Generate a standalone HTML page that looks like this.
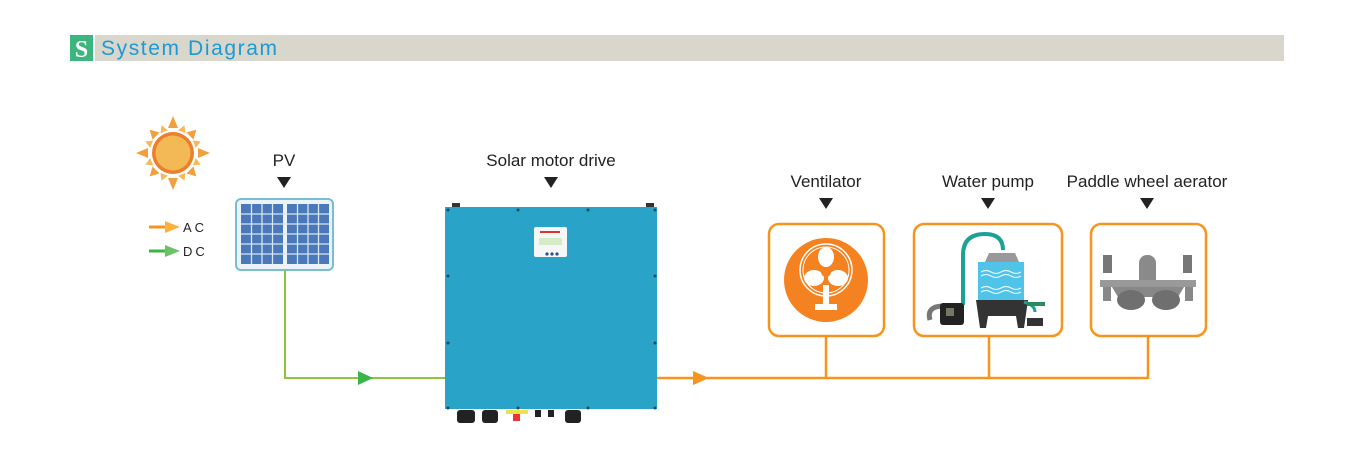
<!DOCTYPE html>
<html><head><style>body{margin:0;background:#fff}svg{display:block}text{font-family:"Liberation Sans",sans-serif}</style></head><body>
<svg width="1362" height="450" viewBox="0 0 1362 450">
<rect x="95" y="35" width="1189" height="26" fill="#d9d6cb"/>
<rect x="70" y="35" width="23" height="26" fill="#3db57f"/>
<text x="81.5" y="57" font-size="24" font-weight="bold" fill="#fff" text-anchor="middle" style="font-family:'Liberation Serif',serif">S</text>
<text x="101" y="55" font-size="21" fill="#1a9ad6" letter-spacing="1.6">System Diagram</text>
<!-- sun -->
<g transform="translate(173,153)">
<g fill="#f0a03c">
<polygon points="0,-37 5,-25 -5,-25"/><polygon points="0,37 5,25 -5,25"/><polygon points="-37,0 -25,5 -25,-5"/><polygon points="37,0 25,5 25,-5"/>
<g transform="rotate(45)"><polygon points="0,-33 5,-24 -5,-24"/><polygon points="0,33 5,24 -5,24"/><polygon points="-33,0 -24,5 -24,-5"/><polygon points="33,0 24,5 24,-5"/></g>
<g transform="rotate(22.5)" fill="#f5b95a"><polygon points="0,-30 4,-23 -4,-23"/><polygon points="0,30 4,23 -4,23"/><polygon points="-30,0 -23,4 -23,-4"/><polygon points="30,0 23,4 23,-4"/></g>
<g transform="rotate(67.5)" fill="#f5b95a"><polygon points="0,-30 4,-23 -4,-23"/><polygon points="0,30 4,23 -4,23"/><polygon points="-30,0 -23,4 -23,-4"/><polygon points="30,0 23,4 23,-4"/></g>
</g>
<circle r="23" fill="#fff"/><circle r="21" fill="#ec7e2d"/><circle r="17.5" fill="#f3b955"/>
</g>
<!-- legend -->
<line x1="149" y1="227" x2="167" y2="227" stroke="#f7941d" stroke-width="3"/><polygon points="165,221 180,227 165,233" fill="#fbb040"/>
<text x="183" y="232" font-size="13" fill="#222" letter-spacing="3">AC</text>
<line x1="149" y1="251" x2="167" y2="251" stroke="#39b54a" stroke-width="3"/><polygon points="165,245 180,251 165,257" fill="#6cc164"/>
<text x="183" y="256" font-size="13" fill="#222" letter-spacing="3">DC</text>
<!-- PV -->
<text x="284" y="166" font-size="17" fill="#222" text-anchor="middle">PV</text>
<polygon points="277,177 291,177 284,188" fill="#222"/>
<rect x="236" y="199" width="97" height="71" rx="5" fill="#eaf3f7" stroke="#7bbcd0" stroke-width="2"/>
<g fill="#4a78b8">
<rect x="241" y="204" width="42" height="60"/><rect x="287" y="204" width="42" height="60"/>
</g>
<g stroke="#d8e6f0" stroke-width="1.3">
<line x1="251.5" y1="204" x2="251.5" y2="264"/><line x1="262" y1="204" x2="262" y2="264"/><line x1="272.5" y1="204" x2="272.5" y2="264"/>
<line x1="297.5" y1="204" x2="297.5" y2="264"/><line x1="308" y1="204" x2="308" y2="264"/><line x1="318.5" y1="204" x2="318.5" y2="264"/>
<line x1="241" y1="214" x2="329" y2="214"/><line x1="241" y1="224" x2="329" y2="224"/><line x1="241" y1="234" x2="329" y2="234"/><line x1="241" y1="244" x2="329" y2="244"/><line x1="241" y1="254" x2="329" y2="254"/>
</g>
<!-- lines -->
<polyline points="285,270 285,378 445,378" fill="none" stroke="#8cc63f" stroke-width="2"/>
<polygon points="358,371 373,378 358,385" fill="#39b54a"/>
<polyline points="657,378 1148,378" fill="none" stroke="#f7941d" stroke-width="2.5"/>
<polygon points="693,371 709,378 693,385" fill="#f7941d"/>
<g stroke="#f7941d" stroke-width="2.5"><line x1="826" y1="336" x2="826" y2="378"/><line x1="989" y1="336" x2="989" y2="378"/><line x1="1148" y1="336" x2="1148" y2="379"/></g>
<!-- inverter -->
<text x="551" y="166" font-size="17" fill="#222" text-anchor="middle">Solar motor drive</text>
<polygon points="544,177 558,177 551,188" fill="#222"/>
<rect x="452" y="203" width="8" height="5" fill="#333"/><rect x="646" y="203" width="8" height="5" fill="#333"/>
<rect x="445" y="207" width="212" height="202" fill="#2aa3c8"/>
<g fill="#1b4a60"><circle cx="448" cy="210" r="1.5"/><circle cx="518" cy="210" r="1.5"/><circle cx="588" cy="210" r="1.5"/><circle cx="655" cy="210" r="1.5"/><circle cx="448" cy="276" r="1.5"/><circle cx="655" cy="276" r="1.5"/><circle cx="448" cy="343" r="1.5"/><circle cx="655" cy="343" r="1.5"/><circle cx="448" cy="408" r="1.5"/><circle cx="518" cy="408" r="1.5"/><circle cx="588" cy="408" r="1.5"/><circle cx="655" cy="408" r="1.5"/></g>
<rect x="534" y="227" width="33" height="30" rx="2" fill="#f4f7f5"/>
<rect x="540" y="231" width="20" height="2" fill="#d33"/><rect x="539" y="238" width="23" height="7" fill="#d7ebc8"/>
<g fill="#2a4f8a"><circle cx="547" cy="254" r="1.6"/><circle cx="552" cy="254" r="1.6"/><circle cx="557" cy="254" r="1.6"/></g>
<g fill="#222"><rect x="457" y="410" width="18" height="13" rx="3"/><rect x="482" y="410" width="16" height="13" rx="3"/><rect x="535" y="410" width="6" height="7"/><rect x="548" y="410" width="6" height="7"/><rect x="565" y="410" width="16" height="13" rx="3"/></g>
<rect x="506" y="410" width="22" height="4" fill="#f0e04a"/><rect x="513" y="414" width="7" height="7" fill="#e33"/>
<!-- loads -->
<text x="826" y="187" font-size="17" fill="#222" text-anchor="middle">Ventilator</text>
<polygon points="819,198 833,198 826,209" fill="#222"/>
<text x="988" y="187" font-size="17" fill="#222" text-anchor="middle">Water pump</text>
<polygon points="981,198 995,198 988,209" fill="#222"/>
<text x="1147" y="187" font-size="17" fill="#222" text-anchor="middle">Paddle wheel aerator</text>
<polygon points="1140,198 1154,198 1147,209" fill="#222"/>
<g fill="#fff" stroke="#f7941d" stroke-width="2.5">
<rect x="769" y="224" width="115" height="112" rx="10"/><rect x="914" y="224" width="148" height="112" rx="10"/><rect x="1091" y="224" width="115" height="112" rx="10"/>
</g>
<!-- fan -->
<circle cx="826" cy="280" r="42" fill="#f58220"/>
<circle cx="826" cy="270" r="26" fill="none" stroke="#fff" stroke-width="1.5"/><circle cx="826" cy="270" r="23" fill="none" stroke="#fff" stroke-width="1"/>
<g fill="#fff"><ellipse cx="826" cy="257" rx="8" ry="10"/><ellipse cx="814" cy="278" rx="10" ry="8"/><ellipse cx="838" cy="278" rx="10" ry="8"/><rect x="823" y="285" width="6" height="20"/><rect x="815" y="304" width="22" height="6"/></g>
<circle cx="826" cy="272" r="5" fill="#f58220"/>
<!-- water pump -->
<path d="M963,305 L963,255 Q963,234 985,234 Q1003,234 1003,250" fill="none" stroke="#1aa394" stroke-width="4"/>
<polygon points="989,253 1015,253 1019,262 985,262" fill="#999"/>
<rect x="978" y="262" width="46" height="38" fill="#4fc3e8"/>
<g stroke="#e6f6fc" stroke-width="1.2" fill="none"><path d="M981,272 q5,-3 10,0 t10,0 t10,0 t10,0"/><path d="M981,276 q5,-3 10,0 t10,0 t10,0 t10,0"/><path d="M981,288 q5,-3 10,0 t10,0 t10,0 t10,0"/><path d="M981,292 q5,-3 10,0 t10,0 t10,0 t10,0"/></g>
<path d="M976,300 h52 l-4,28 h-6 l-2,-12 h-28 l-2,12 h-6 z" fill="#333"/>
<path d="M1024,302 Q1035,305 1035,312" fill="none" stroke="#1aa394" stroke-width="3"/>
<rect x="1027" y="302" width="18" height="4" fill="#2a8a5a"/>
<rect x="1027" y="318" width="16" height="8" fill="#333"/>
<path d="M930,320 q-4,-14 14,-14" fill="none" stroke="#777" stroke-width="5"/>
<rect x="940" y="303" width="24" height="22" rx="3" fill="#222"/><rect x="946" y="308" width="8" height="8" fill="#776"/>
<!-- aerator -->
<rect x="1139" y="255" width="17" height="40" rx="8" fill="#8a8a8a"/>
<rect x="1103" y="255" width="9" height="18" fill="#777"/><rect x="1183" y="255" width="9" height="18" fill="#777"/>
<rect x="1100" y="280" width="96" height="7" fill="#999"/>
<path d="M1112,287 h72 l-6,10 h-60 z" fill="#888"/>
<ellipse cx="1131" cy="300" rx="14" ry="10" fill="#6f6f6f"/><ellipse cx="1166" cy="300" rx="14" ry="10" fill="#6f6f6f"/>
<rect x="1103" y="287" width="8" height="14" fill="#888"/><rect x="1185" y="287" width="8" height="14" fill="#888"/>
</svg>
</body></html>
